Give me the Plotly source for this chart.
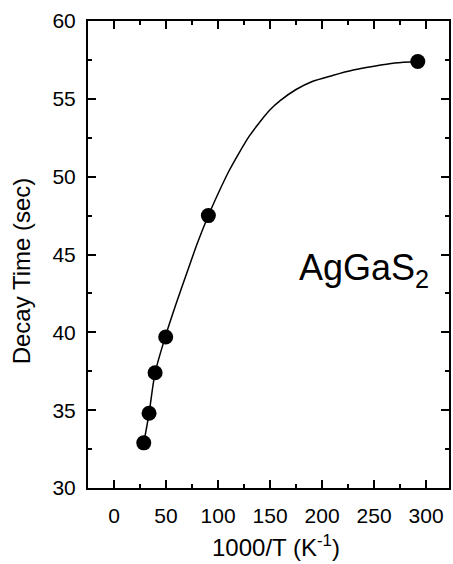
import plotly.graph_objects as go

# Measured data points
inv_T = [28.6, 33.7, 39.5, 49.7, 90.7, 292.0]
decay_time = [32.9, 34.8, 37.4, 39.7, 47.5, 57.4]

# Fitted curve
fit_x = [28.6, 33.7, 39.5, 49.7, 60, 71, 80, 90.7, 100, 110, 120, 130, 140, 150, 160, 175, 190, 210, 230, 250, 270, 292]
fit_y = [32.9, 34.8, 37.4, 39.8, 41.9, 44.0, 45.7, 47.5, 48.9, 50.3, 51.5, 52.6, 53.5, 54.3, 54.9, 55.6, 56.1, 56.5, 56.85, 57.1, 57.3, 57.4]

x_ticks = [0, 50, 100, 150, 200, 250, 300]
y_ticks = [30, 35, 40, 45, 50, 55, 60]

FONT = "Liberation Sans, Arial, sans-serif"

fig = go.Figure()
fig.add_trace(go.Scatter(x=fit_x, y=fit_y, mode="lines",
                         line=dict(color="black", width=1.5, shape="spline", smoothing=0.8),
                         hoverinfo="skip", showlegend=False))
fig.add_trace(go.Scatter(x=inv_T, y=decay_time, mode="markers",
                         marker=dict(color="black", size=15),
                         showlegend=False))

axis_common = dict(showline=True, linecolor="black", linewidth=2, mirror="ticks",
                   ticks="inside", ticklen=8, tickwidth=1.5, tickcolor="black",
                   showgrid=False, zeroline=False,
                   tickfont=dict(family=FONT, size=21, color="black"))

fig.update_xaxes(range=[-25, 322], tickvals=x_ticks, ticktext=[str(v) for v in x_ticks],
                 minor=dict(ticks="inside", ticklen=4, dtick=25, tick0=0, tickcolor="black", tickwidth=1.5),
                 ticklabelstandoff=8, **axis_common)
fig.update_yaxes(range=[30, 60], tickvals=y_ticks, ticktext=[str(v) for v in y_ticks],
                 minor=dict(ticks="inside", ticklen=4, dtick=2.5, tick0=30, tickcolor="black", tickwidth=1.5),
                 ticklabelstandoff=6, **axis_common)

fig.update_layout(
    width=453, height=564,
    margin=dict(l=88, r=2, t=21, b=76),
    paper_bgcolor="white", plot_bgcolor="white",
    font=dict(family=FONT, color="black"),
    annotations=[
        dict(text="1000/T (K<sup>-1</sup>)", xref="paper", yref="paper",
             x=(277.5 - 88) / 363, y=(488 - 563) / 467, xanchor="center", yanchor="bottom",
             showarrow=False, font=dict(family=FONT, size=24)),
        dict(text="Decay Time (sec)", xref="paper", yref="paper", textangle=-90,
             x=(21 - 88) / 363, y=(488 - 271) / 467, xanchor="center", yanchor="middle",
             showarrow=False, font=dict(family=FONT, size=24)),
        dict(text="AgGaS<sub>2</sub>", xref="paper", yref="paper",
             x=(298 - 88) / 363, y=(488 - 270) / 467, xanchor="left", yanchor="middle",
             showarrow=False, font=dict(family=FONT, size=36)),
    ],
)

fig.write_html("out.html", config={"displayModeBar": False},
               post_script="document.body.style.margin='0';document.body.style.overflow='hidden';")
